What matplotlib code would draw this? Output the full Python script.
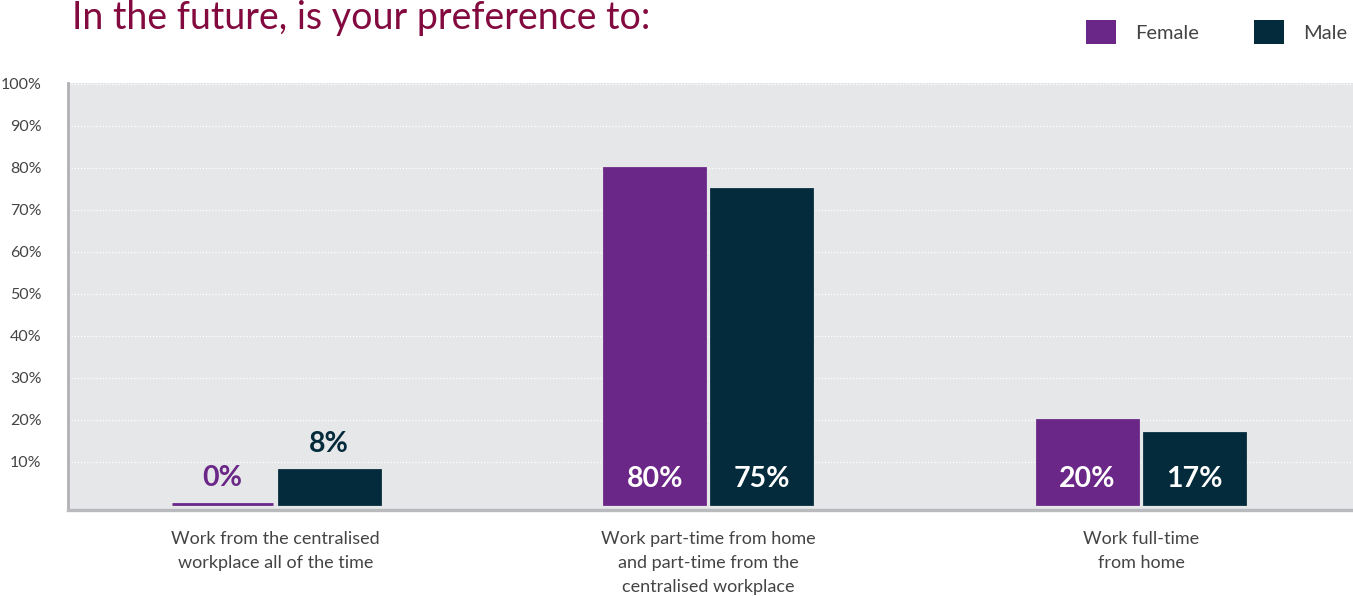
import numpy as np
import matplotlib.pyplot as plt
from matplotlib.patches import Patch

plt.rcParams['font.family'] = ['Lato', 'DejaVu Sans']

categories = ['Work from the centralised\nworkplace all of the time',
              'Work part-time from home\nand part-time from the\ncentralised workplace',
              'Work full-time\nfrom home']
femaleVals = [0, 80, 20]
maleVals = [8, 75, 17]
seriesNames = ['Female', 'Male']
yTicks = [10, 20, 30, 40, 50, 60, 70, 80, 90, 100]

purple = '#6b2787'
navy = '#032b3b'
textGrey = '#444444'

fig = plt.figure(figsize=(13.53, 5.96), dpi=100)
ax = fig.add_axes([68 / 1353, 1 - 510 / 596, 1 - 68 / 1353, (510 - 83) / 596])
ax.set_facecolor('#e6e7e9')

x = np.arange(len(categories))
w = 0.233
off = 0.1236
barsF = ax.bar(x - off, femaleVals, w, color=purple, edgecolor=purple, linewidth=2, zorder=3)
barsM = ax.bar(x + off, maleVals, w, color=navy, edgecolor=navy, linewidth=2, zorder=3)

ax.set_xlim(-0.48, 2.49)
ax.set_ylim(-1.43, 100.2)

# value labels: inside near the base for tall bars, above the bar for short ones
for bars, vals, col in [(barsF, femaleVals, purple), (barsM, maleVals, navy)]:
    for b, v in zip(bars, vals):
        cx = b.get_x() + b.get_width() / 2
        if v >= 15:
            ax.text(cx, 6, f'{v}%', ha='center', va='center', color='white',
                    fontsize=20.5, fontweight='bold', zorder=4)
        else:
            ax.text(cx, v + 6.3, f'{v}%', ha='center', va='center', color=col,
                    fontsize=20.5, fontweight='bold', zorder=4)

ax.set_yticks(yTicks)
ax.set_yticklabels([f'{t}%' for t in yTicks], fontsize=11.5, color=textGrey)
ax.yaxis.grid(True, color='white', linestyle=(0, (1, 1.5)), linewidth=0.9, zorder=1)
ax.set_axisbelow(True)
ax.tick_params(axis='y', length=0, pad=19)

ax.set_xticks(x)
ax.set_xticklabels(categories, fontsize=13, color=textGrey, linespacing=1.62)
ax.tick_params(axis='x', length=0, pad=15)

for side in ['top', 'right']:
    ax.spines[side].set_visible(False)
ax.spines['left'].set_color('#b0b0b5')
ax.spines['left'].set_linewidth(2)
ax.spines['bottom'].set_color('#b9babe')
ax.spines['bottom'].set_linewidth(2.4)

fig.text(72 / 1353, 1 - 18 / 596, 'In the future, is your preference to:',
         fontsize=27, color='#830a3e', va='center', ha='left')

handles = [Patch(facecolor=purple), Patch(facecolor=navy)]
fig.legend(handles, seriesNames, loc='center left',
           bbox_to_anchor=(1086 / 1353, 1 - 32 / 596), ncol=2, frameon=False,
           fontsize=14.5, labelcolor=textGrey, handlelength=1.5, handleheight=1.5,
           handletextpad=0.95, columnspacing=2.7, borderpad=0, borderaxespad=0)

fig.savefig('out.png', dpi=100)
